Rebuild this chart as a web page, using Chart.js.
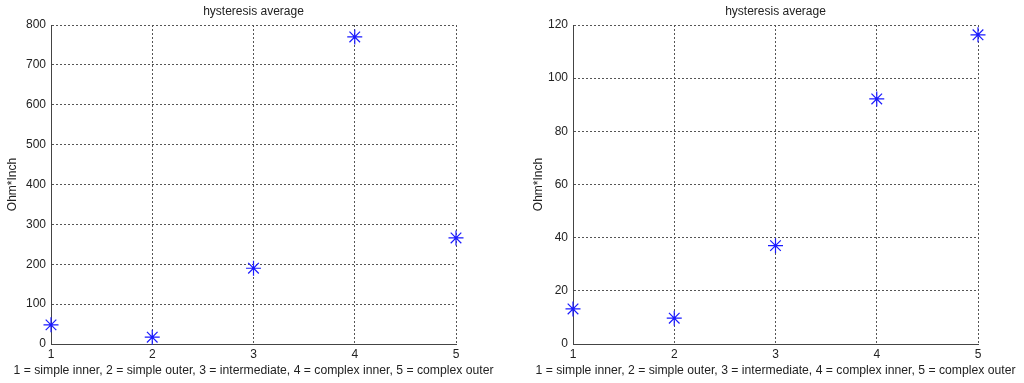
<!DOCTYPE html>
<html>
<head>
<meta charset="utf-8">
<script src="https://cdn.jsdelivr.net/npm/chart.js@4/dist/chart.umd.min.js"></script>
<style>
  body { margin: 0; background: #fff; }
  .box { position: absolute; top: 0; width: 512px; height: 383px; }
</style>
</head>
<body>
<div class="box" style="left:0"><canvas id="left"></canvas></div>
<div class="box" style="left:512px"><canvas id="right"></canvas></div>
<script>
// categories along the x axis
let categories = [1, 2, 3, 4, 5];
// hysteresis average, left panel
let leftValues = [48, 17, 190, 770, 266];
// hysteresis average, right panel
let rightValues = [13.2, 9.7, 37, 92.2, 116.3];

let chartTitle = "hysteresis average";
let xTitle = "1 = simple inner, 2 = simple outer, 3 = intermediate, 4 = complex inner, 5 = complex outer";
let yTitle = "Ohm*Inch";

let font = { family: "Liberation Sans, Arial, sans-serif", size: 12 };
let textColor = "#222";
let gridColor = "#555";

// title and xlabel drawn by hand, centred over the plot area like matlab does
// (the scale title of chart.js squeezes long text to the axis width)
let titlePlugin = {
    id: "plotTitle",
    afterDraw(chart) {
        let ctx = chart.ctx;
        let area = chart.chartArea;
        let mid = (area.left + area.right) / 2;
        ctx.save();
        ctx.fillStyle = textColor;
        ctx.textAlign = "center";
        ctx.textBaseline = "middle";
        ctx.font = "12px " + font.family;
        ctx.fillText(chartTitle, mid, 12);
        ctx.font = "12.2px " + font.family;
        ctx.fillText(xTitle, mid, 371);
        ctx.restore();
    }
};

function makeChart(id, values, yMax, yStep, axisWidth, padRight, titlePad) {
    let ctx = document.getElementById(id).getContext('2d');
    return new Chart(ctx, {
        type: 'scatter',
        data: {
            datasets: [{
                data: categories.map((c, i) => ({ x: c, y: values[i] })),
                pointStyle: 'star',
                pointRadius: 7.5,
                pointHoverRadius: 7.5,
                borderColor: '#1a1aff',
                backgroundColor: '#1a1aff',
                pointBorderWidth: 1.2,
                showLine: false,
                clip: false
            }]
        },
        options: {
            responsive: true,
            maintainAspectRatio: false,
            animation: false,
            layout: { padding: { top: 25, right: padRight, bottom: 0, left: 0 } },
            plugins: {
                legend: { display: false },
                tooltip: { enabled: false }
            },
            scales: {
                x: {
                    type: 'linear',
                    min: 1,
                    max: 5,
                    afterFit: s => { s.height = 39; },
                    ticks: { stepSize: 1, color: textColor, font: font, padding: 3, maxRotation: 0 },
                    grid: { color: gridColor, drawTicks: false, tickLength: 0 },
                    border: { color: '#444', width: 1, dash: [2, 2] }
                },
                y: {
                    min: 0,
                    max: yMax,
                    afterFit: s => { s.width = axisWidth; },
                    ticks: { stepSize: yStep, color: textColor, font: font, padding: 5 },
                    grid: { color: gridColor, drawTicks: false, tickLength: 0 },
                    border: { color: '#444', width: 1, dash: [2, 2] },
                    title: { display: true, text: yTitle, color: textColor, font: font, padding: { top: titlePad, bottom: 0 } }
                }
            }
        },
        plugins: [titlePlugin]
    });
}

makeChart('left', leftValues, 800, 100, 51, 56, 5);
makeChart('right', rightValues, 120, 20, 61, 46, 19);
</script>
</body>
</html>
